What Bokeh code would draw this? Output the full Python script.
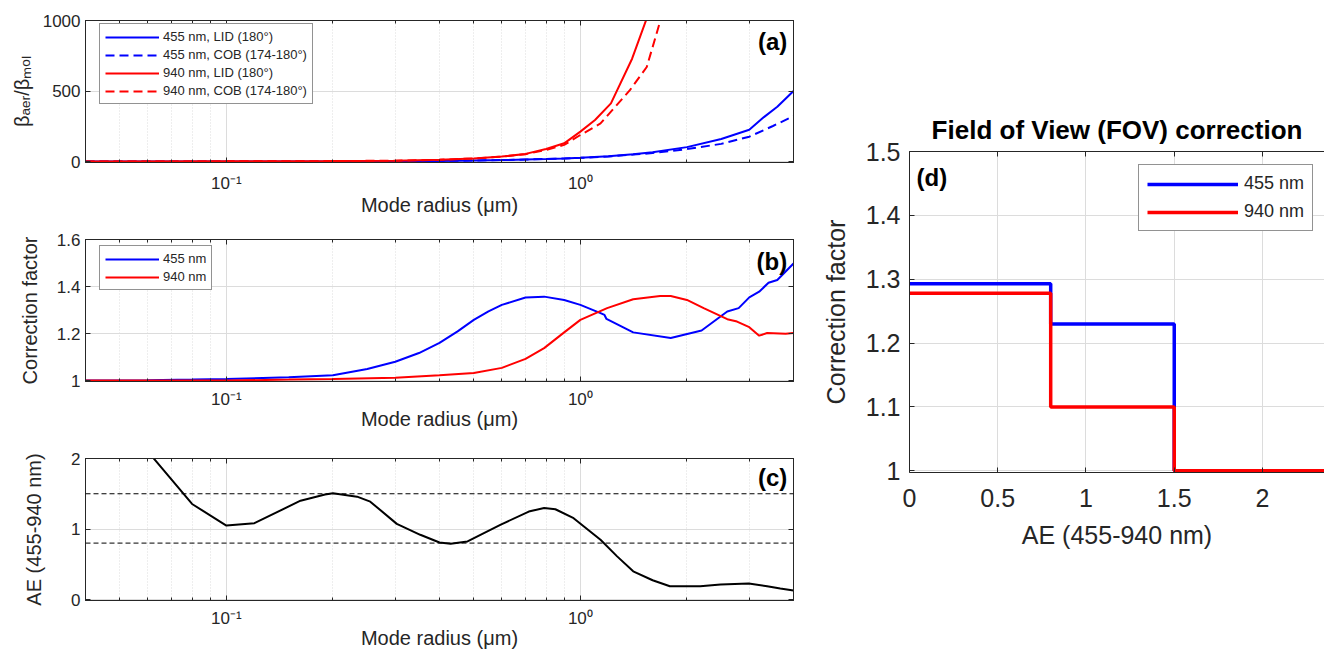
from bokeh.plotting import figure
from bokeh.layouts import row, column
from bokeh.models import (FixedTicker, LogAxis, LinearAxis, Legend, LegendItem,
                          Label, CustomJSTickFormatter, Range1d, Span, Title)
from bokeh.embed import file_html
from bokeh.resources import INLINE

FONT = "Liberation Sans"
DARK = "#262626"
GRID = "#dcdcdc"
BLUE = "#0000ff"
RED = "#ff0000"

# ---------------- data ----------------
x_major_ticks = [0.1, 1.0]
x_major_labels = ["10⁻¹", "10⁰"]
x_minor_ticks = [0.04, 0.05, 0.06, 0.07, 0.08, 0.09, 0.2, 0.3, 0.4, 0.5,
                 0.6, 0.7, 0.8, 0.9, 2.0, 3.0, 4.0]

# (a) backscatter ratio
r_a455_lid = [0.04, 0.1, 0.2, 0.3, 0.4, 0.5, 0.6, 0.7, 0.8, 0.9, 1.0, 1.2,
              1.41, 1.6, 2.0, 2.5, 3.0, 3.3, 3.6, 4.0]
a455_lid = [0, 0.3, 1, 2, 4, 7, 10, 14, 18, 22, 27, 38, 52, 65, 102, 160,
            225, 315, 388, 500]
r_a455_cob = [0.04, 0.1, 0.2, 0.3, 0.4, 0.5, 0.6, 0.7, 0.8, 0.9, 1.0, 1.2,
              1.41, 1.6, 2.0, 2.5, 3.0, 3.5, 4.0]
a455_cob = [0, 0.3, 1, 2, 4, 7, 10, 14, 18, 22, 26, 36, 49, 60, 88, 125,
            176, 252, 322]
r_a940_lid = [0.04, 0.1, 0.2, 0.3, 0.4, 0.5, 0.6, 0.7, 0.8, 0.9, 1.0, 1.1,
              1.22, 1.4, 1.6]
a940_lid = [0, 1, 3, 6, 12, 22, 35, 54, 89, 129, 212, 294, 412, 729, 1130]
r_a940_cob = [0.04, 0.1, 0.2, 0.3, 0.4, 0.5, 0.6, 0.7, 0.8, 0.9, 1.0, 1.14,
              1.38, 1.54, 1.8]
a940_cob = [0, 1, 3, 6, 12, 22, 34, 52, 82, 118, 188, 270, 506, 670, 1250]

# (b) correction factor
r_b455 = [0.04, 0.06, 0.08, 0.1, 0.15, 0.2, 0.25, 0.3, 0.35, 0.4, 0.45, 0.5,
          0.55, 0.6, 0.7, 0.79, 0.9, 1.0, 1.14, 1.17, 1.185, 1.41, 1.8, 2.2,
          2.6, 2.8, 3.0, 3.2, 3.4, 3.6, 4.0]
b455 = [1.0, 1.001, 1.004, 1.007, 1.014, 1.023, 1.049, 1.08, 1.117, 1.16,
        1.209, 1.258, 1.294, 1.322, 1.353, 1.357, 1.343, 1.322, 1.287, 1.279,
        1.262, 1.205, 1.181, 1.213, 1.294, 1.308, 1.354, 1.378, 1.416, 1.428,
        1.498]
r_b940 = [0.04, 0.1, 0.15, 0.2, 0.3, 0.4, 0.5, 0.6, 0.7, 0.79, 0.9, 1.0,
          1.19, 1.41, 1.68, 1.8, 2.0, 2.23, 2.6, 2.77, 3.0, 3.2, 3.37, 3.8, 4.0]
b940 = [1.0, 1.0, 1.004, 1.007, 1.012, 1.023, 1.032, 1.054, 1.092, 1.138,
        1.205, 1.258, 1.308, 1.346, 1.36, 1.36, 1.343, 1.308, 1.261, 1.251,
        1.227, 1.191, 1.202, 1.199, 1.202]

# (c) Angstrom exponent
r_c = [0.06, 0.08, 0.1, 0.12, 0.162, 0.19, 0.2, 0.234, 0.255, 0.303, 0.353,
       0.4, 0.43, 0.48, 0.594, 0.715, 0.79, 0.85, 0.957, 1.14, 1.27, 1.41,
       1.6, 1.79, 2.18, 2.49, 2.99, 3.37, 3.67, 4.0]
ae_c = [2.1, 1.355, 1.049, 1.082, 1.402, 1.49, 1.506, 1.459, 1.388, 1.073,
        0.918, 0.809, 0.791, 0.824, 1.059, 1.247, 1.299, 1.28, 1.153, 0.847,
        0.612, 0.40, 0.273, 0.188, 0.188, 0.212, 0.226, 0.188, 0.155, 0.127]
ae_limits = [1.5, 0.8]

# (d) FOV correction
ae_steps = [0.0, 0.8, 1.5, 2.5]
fov455 = [1.293, 1.23, 1.0, 1.0]
fov940 = [1.278, 1.10, 1.0, 1.0]

# ---------------- helpers ----------------
log_fmt = CustomJSTickFormatter(args=dict(vals=x_major_ticks, labs=x_major_labels), code="""
for (let i = 0; i < vals.length; i++) {
  if (Math.abs(tick - vals[i]) < 1e-6 * vals[i]) return labs[i];
}
return "";
""")
lin_fmt = CustomJSTickFormatter(code="return String(parseFloat(tick.toFixed(4)));")
hide_fmt = CustomJSTickFormatter(code="return '';")


def base_fig(x_type, xr, yr, fw, fh, bt, bb, bl, br):
    p = figure(x_axis_type=x_type, x_range=xr, y_range=yr, frame_width=fw,
               frame_height=fh, min_border_top=bt, min_border_bottom=bb,
               min_border_left=bl, min_border_right=br, toolbar_location=None,
               output_backend="svg")
    p.outline_line_color = DARK
    p.outline_line_width = 1
    p.background_fill_color = "white"
    p.border_fill_color = "white"
    return p


def style_axis(ax, ticker, fmt, size, tin=5, minin=3):
    ax.ticker = ticker
    ax.formatter = fmt
    ax.axis_line_color = DARK
    ax.major_tick_line_color = DARK
    ax.minor_tick_line_color = DARK
    ax.major_tick_in = tin
    ax.major_tick_out = 0
    ax.minor_tick_in = minin
    ax.minor_tick_out = 0
    ax.major_label_text_font = FONT
    ax.major_label_text_font_size = size
    ax.major_label_text_color = DARK
    ax.axis_label_text_font = FONT
    ax.axis_label_text_font_style = "normal"
    ax.axis_label_text_color = DARK


def mode_panel(yr, yticks, bt, bb, ylabel, ylab_standoff, xlab_standoff, xtick_standoff):
    p = base_fig("log", Range1d(0.04, 4), Range1d(*yr), 708, 142, bt, bb, 85, 15)
    xt = FixedTicker(ticks=x_major_ticks, minor_ticks=x_minor_ticks)
    yt = FixedTicker(ticks=yticks)
    style_axis(p.xaxis[0], xt, log_fmt, "17px")
    style_axis(p.yaxis[0], yt, lin_fmt, "17px")
    p.xaxis[0].axis_label = "Mode radius (μm)"
    p.xaxis[0].axis_label_text_font_size = "20px"
    p.xaxis[0].major_label_standoff = xtick_standoff
    p.xaxis[0].axis_label_standoff = xlab_standoff
    p.yaxis[0].axis_label = ylabel
    p.yaxis[0].axis_label_text_font_size = "20px"
    p.yaxis[0].major_label_standoff = 5
    p.yaxis[0].axis_label_standoff = ylab_standoff
    top = LogAxis()
    style_axis(top, FixedTicker(ticks=x_major_ticks, minor_ticks=x_minor_ticks), hide_fmt, "1px")
    top.major_label_standoff = 0
    p.add_layout(top, "above")
    right = LinearAxis()
    style_axis(right, FixedTicker(ticks=yticks), hide_fmt, "1px")
    right.major_label_standoff = 0
    p.add_layout(right, "right")
    p.xgrid.grid_line_color = GRID
    p.xgrid.minor_grid_line_color = GRID
    p.xgrid.minor_grid_line_dash = "1 2"
    p.ygrid.grid_line_color = GRID
    return p


def panel_letter(p, x, y, text, align="right"):
    p.add_layout(Label(x=x, y=y, text=text, text_align=align, text_baseline="middle",
                       text_font=FONT, text_font_style="bold", text_font_size="24px",
                       text_color="black"))


def legend(items, loc, size, glyph_w, glyph_h, spacing, padding, standoff):
    lg = Legend(items=items, location=loc)
    lg.label_text_font = FONT
    lg.label_text_font_size = size
    lg.label_text_color = DARK
    lg.glyph_width = glyph_w
    lg.glyph_height = glyph_h
    lg.label_height = glyph_h
    lg.spacing = spacing
    lg.padding = padding
    lg.margin = 0
    lg.label_standoff = standoff
    lg.border_line_color = DARK
    lg.border_line_width = 1
    lg.background_fill_color = "white"
    lg.background_fill_alpha = 1
    return lg


# ---------------- panel (a) ----------------
pa = mode_panel((-7, 1000), [0, 500, 1000], 20, 60, "βₐₑᵣ/βₘₒₗ", 7, -2, 11)
ra1 = pa.line(r_a455_lid, a455_lid, line_color=BLUE, line_width=2)
ra2 = pa.line(r_a455_cob, a455_cob, line_color=BLUE, line_width=2, line_dash="9 5")
ra3 = pa.line(r_a940_lid, a940_lid, line_color=RED, line_width=2)
ra4 = pa.line(r_a940_cob, a940_cob, line_color=RED, line_width=2, line_dash="9 5")
pa.add_layout(legend([
    LegendItem(label="455 nm, LID (180°)", renderers=[ra1]),
    LegendItem(label="455 nm, COB (174-180°)", renderers=[ra2]),
    LegendItem(label="940 nm, LID (180°)", renderers=[ra3]),
    LegendItem(label="940 nm, COB (174-180°)", renderers=[ra4]),
], (14, 58), "13px", 54, 14, 3, 5, 4))
panel_letter(pa, 3.84, 852, "(a)")

# ---------------- panel (b) ----------------
pb = mode_panel((1 - 0.004, 1.6), [1, 1.2, 1.4, 1.6], 17, 57, "Correction factor", 13, -4, 8)
rb1 = pb.line(r_b455, b455, line_color=BLUE, line_width=2)
rb2 = pb.line(r_b940, b940, line_color=RED, line_width=2)
pb.add_layout(legend([
    LegendItem(label="455 nm", renderers=[rb1]),
    LegendItem(label="940 nm", renderers=[rb2]),
], (14, 91), "13px", 54, 14, 3, 5, 4))
panel_letter(pb, 3.84, 1.507, "(b)")

# ---------------- panel (c) ----------------
pc = mode_panel((-0.014, 2), [0, 1, 2], 20, 55, "AE (455-940 nm)", 23, -4, 8)
for lim in ae_limits:
    pc.add_layout(Span(location=lim, dimension="width", line_color="black",
                       line_width=1, line_dash="5 3"))
pc.line(r_c, ae_c, line_color="black", line_width=2)
panel_letter(pc, 3.84, 1.725, "(c)")

# ---------------- panel (d) ----------------
pd_ = base_fig("linear", Range1d(0, 2.3513), Range1d(1 - 1.75 / 638, 1.5),
               415, 321, 151, 183, 101, 0)
pd_.outline_line_color = None
style_axis(pd_.xaxis[0], FixedTicker(ticks=[0, 0.5, 1, 1.5, 2]), lin_fmt, "25px")
style_axis(pd_.yaxis[0], FixedTicker(ticks=[1, 1.1, 1.2, 1.3, 1.4, 1.5]), lin_fmt, "25px")
pd_.xaxis[0].axis_label = "AE (455-940 nm)"
pd_.xaxis[0].axis_label_text_font_size = "25px"
pd_.xaxis[0].major_label_standoff = 16
pd_.xaxis[0].axis_label_standoff = 11
pd_.yaxis[0].axis_label = "Correction factor"
pd_.yaxis[0].axis_label_text_font_size = "25px"
pd_.yaxis[0].major_label_standoff = 9
pd_.yaxis[0].axis_label_standoff = 13
topd = LinearAxis()
style_axis(topd, FixedTicker(ticks=[0, 0.5, 1, 1.5, 2]), hide_fmt, "1px")
topd.major_label_standoff = 0
pd_.add_layout(topd, "above")
pd_.add_layout(Title(text="Field of View (FOV) correction", align="center",
                     text_font=FONT, text_font_style="bold", text_font_size="26px",
                     text_color="black", standoff=14, offset=8), "above")
pd_.xgrid.grid_line_color = GRID
pd_.ygrid.grid_line_color = GRID
rd1 = pd_.step(ae_steps, fov455, mode="after", line_color=BLUE, line_width=3.5)
rd2 = pd_.step(ae_steps, fov940, mode="after", line_color=RED, line_width=3.5)
pd_.add_layout(legend([
    LegendItem(label="455 nm", renderers=[rd1]),
    LegendItem(label="940 nm", renderers=[rd2]),
], (229, 241), "18px", 91, 20, 7, 8, 6))
panel_letter(pd_, 0.04, 1.459, "(d)", align="left")

layout = row(column(pa, pb, pc), pd_)

with open("out.html", "w", encoding="utf-8") as f:
    f.write(file_html(layout, INLINE))
